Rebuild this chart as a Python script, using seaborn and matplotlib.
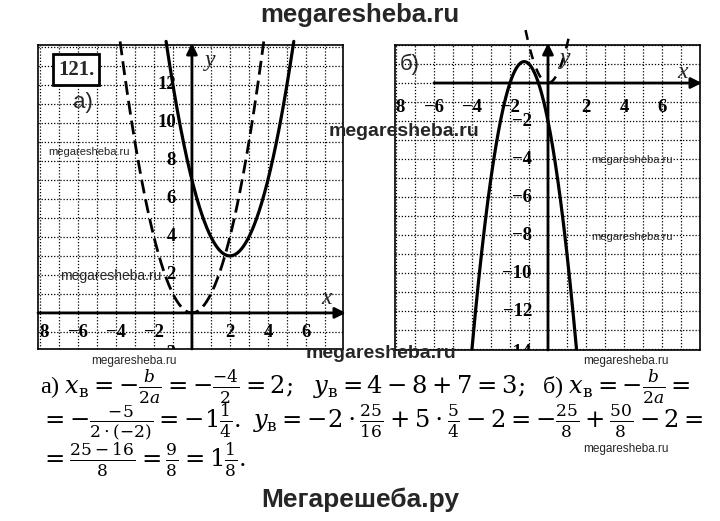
import matplotlib
matplotlib.use("Agg")
import matplotlib.pyplot as plt
import numpy as np
import pandas as pd
import seaborn as sns

# parabola coefficients (a, b, c) as drawn in the picture
LEFT_SOLID = [1, -4, 7]      # y = x^2 - 4x + 7
LEFT_DASHED = [1, 0, 0]      # y = x^2
RIGHT_SOLID = [-2, -5, -2]   # y = -2x^2 - 5x - 2
RIGHT_DASHED = [2, 0, 0]     # y = 2x^2

# visible x-range of every curve
LEFT_SOLID_X = [-1.36, 5.36]
LEFT_DASHED_X = [-3.78, 3.78]
RIGHT_SOLID_X = [-4.0, 1.5]
RIGHT_DASHED_X = [-1.18, 1.18]

LEFT_XTICKS = [-7.8, -6, -4, -2, 2, 4, 6]
LEFT_XLABELS = ["8", "−6", "−4", "−2", "2", "4", "6"]
LEFT_YTICKS = [2, 4, 6, 8, 10, 12]
LEFT_YLABELS = ["2", "4", "6", "8", "10", "12"]

RIGHT_XTICKS = [-7.8, -6, -4, -2, 2, 4, 6]
RIGHT_XLABELS = ["8", "−6", "−4", "−2", "2", "4", "6"]
RIGHT_YTICKS = [-2, -4, -6, -8, -10, -12]
RIGHT_YLABELS = ["−2", "−4", "−6", "−8", "−10", "−12"]

W, H = 720, 521

sns.set_theme(style="white")
plt.rcParams["font.family"] = ["Liberation Serif", "DejaVu Serif"]
plt.rcParams["mathtext.fontset"] = "dejavuserif"


def fx(px):
    return px / W


def fy(py):
    return 1 - py / H


def curve(coef, xr):
    xs = np.linspace(xr[0], xr[1], 300)
    return pd.DataFrame({"x": xs, "y": np.polyval(coef, xs)})


def make_axes(fig, box, xlim, ylim):
    x0, y0, x1, y1 = box
    ax = fig.add_axes([fx(x0), fy(y1), fx(x1) - fx(x0), fy(y0) - fy(y1)])
    ax.set_xlim(*xlim)
    ax.set_ylim(*ylim)
    ax.set_xticks(np.arange(np.ceil(xlim[0]), xlim[1] + 0.01, 1))
    ax.set_yticks(np.arange(np.ceil(ylim[0]), ylim[1] + 0.01, 1))
    ax.tick_params(length=0, labelbottom=False, labelleft=False)
    ax.grid(True, ls=(0, (1, 1.5)), lw=0.9, color="black")
    for sp in ax.spines.values():
        sp.set_linestyle((0, (1, 1)))
        sp.set_linewidth(1.2)
        sp.set_color("black")
    ax.set_facecolor("white")
    return ax


def arrow(ax, start, end):
    ax.annotate("", xy=end, xytext=start, annotation_clip=False,
                arrowprops=dict(arrowstyle="-|>", lw=2.0, color="black",
                                mutation_scale=16, shrinkA=0, shrinkB=0))


fig = plt.figure(figsize=(W / 100, H / 100), dpi=100)
fig.patch.set_facecolor("white")

tick_font = dict(fontsize=13.5, fontweight="bold", color="black")

# ---- а) ----
ax1 = make_axes(fig, (38, 45, 343, 349), (-8.1, 7.95), (-1.9, 14.1))
arrow(ax1, (-8.1, 0), (8.1, 0))
arrow(ax1, (0, -1.9), (0, 14.2))
sns.lineplot(data=curve(LEFT_DASHED, LEFT_DASHED_X), x="x", y="y", ax=ax1,
             color="black", lw=2.0, linestyle=(0, (5, 2.2)), clip_on=False)
sns.lineplot(data=curve(LEFT_SOLID, LEFT_SOLID_X), x="x", y="y", ax=ax1,
             color="black", lw=2.3, clip_on=False)
ax1.set_xlabel("")
ax1.set_ylabel("")
for x, lab in zip(LEFT_XTICKS, LEFT_XLABELS):
    ax1.text(x, -1.05, lab, ha="center", va="center", **tick_font)
for y, lab in zip(LEFT_YTICKS, LEFT_YLABELS):
    ax1.text(-0.85, y, lab, ha="right", va="center", **tick_font)
# the "−2" label is cut by the frame
ax1.text(-0.85, -2.15, "−2", ha="right", va="center", clip_on=True, **tick_font)
ax1.text(0.95, 13.3, "y", ha="center", va="center", fontsize=17, style="italic")
ax1.text(7.1, 0.75, "x", ha="center", va="center", fontsize=17, style="italic")
ax1.text(-5.75, 11.05, "а)", ha="center", va="center", fontsize=16,
         family=["Liberation Sans", "DejaVu Sans"])
ax1.text(-6.1, 12.8, "121.", ha="center", va="center", fontsize=15, fontweight="bold",
         bbox=dict(boxstyle="square,pad=0.25", fc="white", ec="black", lw=2))

# ---- б) ----
ax2 = make_axes(fig, (395, 45, 700, 350), (-8.05, 8.0), (-14.05, 2.0))
arrow(ax2, (-6.0, 0), (8.1, 0))
arrow(ax2, (0, -14.05), (0, 2.1))
sns.lineplot(data=curve(RIGHT_DASHED, RIGHT_DASHED_X), x="x", y="y", ax=ax2,
             color="black", lw=1.8, linestyle=(0, (4, 4)), clip_on=False)
sns.lineplot(data=curve(RIGHT_SOLID, RIGHT_SOLID_X), x="x", y="y", ax=ax2,
             color="black", lw=2.3, clip_on=False)
ax2.set_xlabel("")
ax2.set_ylabel("")
for x, lab in zip(RIGHT_XTICKS, RIGHT_XLABELS):
    ax2.text(x, -1.3, lab, ha="center", va="center", **tick_font)
for y, lab in zip(RIGHT_YTICKS, RIGHT_YLABELS):
    ax2.text(-0.85, y, lab, ha="right", va="center", **tick_font)
ax2.text(-0.85, -14.2, "−14", ha="right", va="center", clip_on=True, **tick_font)
ax2.text(0.9, 1.3, "y", ha="center", va="center", fontsize=17, style="italic")
ax2.text(7.1, 0.55, "x", ha="center", va="center", fontsize=17, style="italic")
ax2.text(-7.3, 1.0, "б)", ha="center", va="center", fontsize=16,
         family=["Liberation Sans", "DejaVu Sans"])

# ---- solution text ----
math_font = dict(fontsize=17.5, color="black", ha="left", va="center")
line1 = (r"а) $x_{\mathrm{в}}=-\frac{b}{2a}=-\frac{-4}{2}=2;\ \ y_{\mathrm{в}}=4-8+7=3;$"
         r"  б) $x_{\mathrm{в}}=-\frac{b}{2a}=$")
line2 = (r"$=-\frac{-5}{2\cdot(-2)}=-1\frac{1}{4}.\ y_{\mathrm{в}}=-2\cdot\frac{25}{16}"
         r"+5\cdot\frac{5}{4}-2=-\frac{25}{8}+\frac{50}{8}-2=$")
line3 = r"$=\frac{25-16}{8}=\frac{9}{8}=1\frac{1}{8}.$"
fig.text(fx(40), fy(387), line1, **math_font)
fig.text(fx(40), fy(423), line2, **math_font)
fig.text(fx(40), fy(460), line3, **math_font)

# ---- watermarks ----
sans = ["Liberation Sans Narrow", "Liberation Sans", "DejaVu Sans"]
fig.text(0.5, fy(15), "megaresheba.ru", ha="center", va="center", fontsize=18.5,
         fontweight="bold", family=sans)
fig.text(0.5, fy(500), "Мегарешеба.ру", ha="center", va="center", fontsize=19,
         fontweight="bold", family=sans)
fig.text(fx(404), fy(131), "megaresheba.ru", ha="center", va="center", fontsize=14,
         fontweight="bold", family=sans)
fig.text(fx(381), fy(354), "megaresheba.ru", ha="center", va="center", fontsize=14,
         fontweight="bold", family=sans)
for px, py, fs in [(89, 152, 8), (111, 276, 10), (632, 160, 8), (632, 237, 8),
                   (134, 361, 8.5), (626, 361, 8.5), (626, 449, 8.5)]:
    fig.text(fx(px), fy(py), "megaresheba.ru", ha="center", va="center", fontsize=fs,
             family=sans)

fig.savefig("out.png", dpi=100, facecolor="white")
